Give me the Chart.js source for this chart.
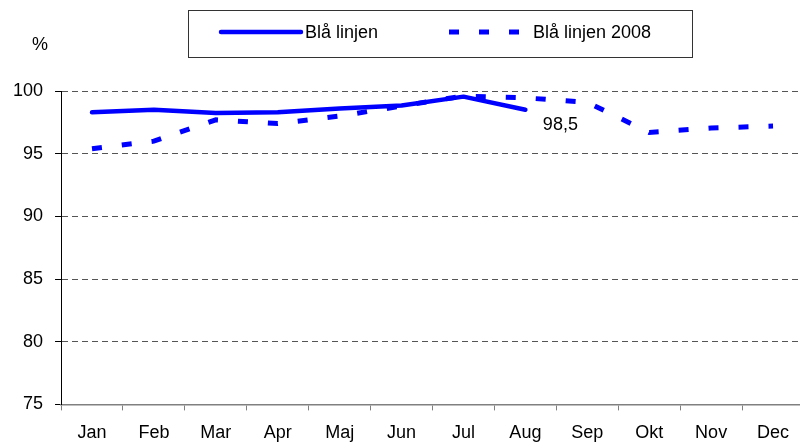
<!DOCTYPE html>
<html>
<head>
<meta charset="utf-8">
<script src="https://cdn.jsdelivr.net/npm/chart.js@4.4.1/dist/chart.umd.min.js"></script>
<style>
  html, body { margin: 0; padding: 0; background: #fff; overflow: hidden; }
  #wrap { width: 800px; height: 446px; overflow: hidden; }
</style>
</head>
<body>
<div id="wrap"><canvas id="chart" width="804" height="458"></canvas></div>
<script>
const months = ['Jan', 'Feb', 'Mar', 'Apr', 'Maj', 'Jun', 'Jul', 'Aug', 'Sep', 'Okt', 'Nov', 'Dec'];
const blaLinjen = [98.3, 98.5, 98.25, 98.3, 98.6, 98.85, 99.55, 98.5, null, null, null, null];
const blaLinjen2008 = [95.4, 96.0, 97.7, 97.4, 98.0, 98.8, 99.6, 99.45, 99.1, 96.7, 97.05, 97.2];
const seriesNames = ['Blå linjen', 'Blå linjen 2008'];
const yMin = 75, yMax = 100, yStep = 5;
const lastLabel = '98,5';

const FONT = '"Liberation Sans", Arial, sans-serif';

// legend box, % label and the 98,5 value label
const extras = {
  id: 'extras',
  afterDraw(chart) {
    const ctx = chart.ctx;
    ctx.save();
    // legend frame
    ctx.strokeStyle = '#333';
    ctx.lineWidth = 1;
    ctx.strokeRect(188.5, 10.5, 504, 47);
    // solid sample
    ctx.strokeStyle = '#0000ff';
    ctx.lineCap = 'round';
    ctx.lineWidth = 4.5;
    ctx.beginPath();
    ctx.moveTo(221, 32);
    ctx.lineTo(301, 32);
    ctx.stroke();
    // dashed sample
    ctx.lineCap = 'butt';
    ctx.lineWidth = 5;
    ctx.setLineDash([10, 20]);
    ctx.beginPath();
    ctx.moveTo(449, 32);
    ctx.lineTo(521, 32);
    ctx.stroke();
    ctx.setLineDash([]);

    ctx.fillStyle = '#000';
    ctx.font = '18px ' + FONT;
    ctx.textBaseline = 'middle';
    ctx.textAlign = 'left';
    ctx.fillText(seriesNames[0], 305, 33);
    ctx.fillText(seriesNames[1], 533, 33);

    // % label
    ctx.textAlign = 'center';
    ctx.fillText('%', 40, 45);

    // value label at last point of Blå linjen
    const x = chart.scales.x.getPixelForValue(7);
    const y = chart.scales.y.getPixelForValue(blaLinjen[7]);
    ctx.fillText(lastLabel, x + 35, y + 15);
    ctx.restore();
  }
};

new Chart(document.getElementById('chart').getContext('2d'), {
  type: 'line',
  data: {
    labels: months,
    datasets: [
      {
        label: seriesNames[1],
        data: blaLinjen2008,
        borderColor: '#0000ff',
        borderWidth: 5,
        borderDash: [10, 20],
        borderCapStyle: 'butt',
        pointRadius: 0,
        tension: 0,
        fill: false
      },
      {
        label: seriesNames[0],
        data: blaLinjen,
        borderColor: '#0000ff',
        borderWidth: 4.5,
        borderCapStyle: 'round',
        borderJoinStyle: 'round',
        pointRadius: 0,
        tension: 0,
        fill: false
      }
    ]
  },
  options: {
    responsive: false,
    animation: false,
    layout: { padding: { top: 91, left: 1, right: 0, bottom: 2 } },
    plugins: {
      legend: { display: false },
      tooltip: { enabled: false }
    },
    scales: {
      x: {
        offset: true,
        grid: {
          offset: true,
          drawOnChartArea: false,
          tickLength: 6,
          tickColor: '#808080'
        },
        border: { color: '#808080', width: 1.5 },
        ticks: { color: '#000', padding: 12, font: { family: FONT, size: 18 } }
      },
      y: {
        min: yMin,
        max: yMax,
        grid: {
          color: (c) => c.tick && c.tick.value === yMin ? 'rgba(0,0,0,0)' : '#555',
          tickColor: '#000',
          tickLength: 6,
          lineWidth: 1
        },
        border: { color: '#000', dash: [6, 4] },
        ticks: { stepSize: yStep, color: '#000', padding: 12, font: { family: FONT, size: 18 } }
      }
    }
  },
  plugins: [extras]
});
</script>
</body>
</html>
